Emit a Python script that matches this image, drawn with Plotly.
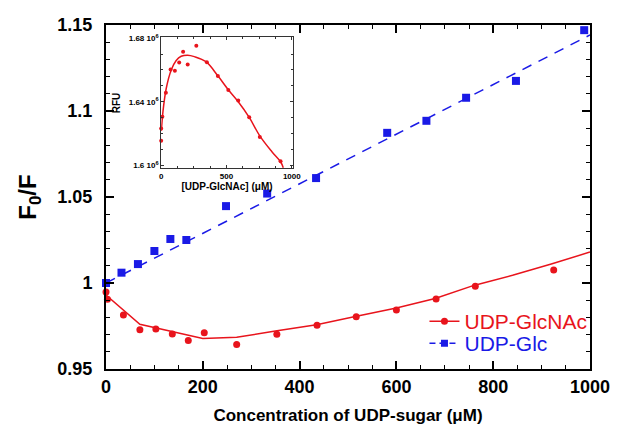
import plotly.graph_objects as go

# ---- main plot data ----
glc_x = [0, 32, 66, 100, 133, 166, 248, 333, 434, 581, 662, 744, 847, 988]
glc_y = [1.000, 1.006, 1.011, 1.0186, 1.0256, 1.025, 1.0447, 1.052, 1.061,
         1.0873, 1.0943, 1.1077, 1.1175, 1.147]
glc_fit_x = [0, 1000]
glc_fit_y = [1.000, 1.1442]

glcnac_x = [0, 3, 36, 70, 103, 137, 170, 203, 270, 353, 436, 517, 600, 682, 763, 925]
glcnac_y = [0.9948, 0.9905, 0.9814, 0.9728, 0.9733, 0.9703, 0.9665, 0.9711, 0.9643,
            0.9702, 0.9754, 0.9804, 0.9843, 0.9907, 0.9981, 1.0076]
glcnac_fit_x = [0, 70, 200, 270, 350, 435, 515, 600, 680, 760, 840, 920, 1000]
glcnac_fit_y = [0.993, 0.976, 0.9678, 0.9684, 0.9721, 0.9757, 0.9805, 0.9855,
                0.991, 0.9986, 1.0045, 1.011, 1.018]

# ---- inset data ----
ins_x = [0, 0, 9, 36, 72, 105, 138, 168, 203, 269, 350, 434, 514, 590, 674, 755, 914]
ins_y = [1.6155e6, 1.6231e6, 1.6306e6, 1.6457e6, 1.6603e6, 1.6595e6, 1.6647e6,
         1.6715e6, 1.6634e6, 1.6752e6, 1.6649e6, 1.6562e6, 1.6473e6, 1.6407e6,
         1.6302e6, 1.6178e6, 1.6025e6]
ins_fit_x = [1.5, 14, 39, 77, 115, 153, 203, 254, 343, 434, 514, 590, 674, 755, 848, 914, 935]
ins_fit_y = [1.6217e6, 1.6341e6, 1.6485e6, 1.6600e6, 1.6660e6, 1.6686e6, 1.6693e6,
             1.6684e6, 1.6652e6, 1.6563e6, 1.6475e6, 1.6400e6, 1.6302e6, 1.6185e6,
             1.6085e6, 1.6022e6, 1.5985e6]

x_ticks = [0, 200, 400, 600, 800, 1000]
y_ticks = [0.95, 1.0, 1.05, 1.1, 1.15]
y_ticktext = ["0.95", "1", "1.05", "1.1", "1.15"]
ins_xticks = [0, 500, 1000]
ins_yticks = [1.60e6, 1.64e6, 1.68e6]
ins_yticktext = ["1.6 10<sup>6</sup>", "1.64 10<sup>6</sup>", "1.68 10<sup>6</sup>"]

RED = "#e8141c"
BLUE = "#1a1ae6"
FONT = "Arial, Liberation Sans, sans-serif"

fig = go.Figure()

# main traces
fig.add_trace(go.Scatter(x=glcnac_fit_x, y=glcnac_fit_y, mode="lines",
                         line=dict(color=RED, width=1.5), showlegend=False,
                         cliponaxis=False))
fig.add_trace(go.Scatter(x=glcnac_x, y=glcnac_y, mode="markers",
                         marker=dict(color=RED, size=7, symbol="circle"),
                         showlegend=False, cliponaxis=False))
fig.add_trace(go.Scatter(x=glc_fit_x, y=glc_fit_y, mode="lines",
                         line=dict(color=BLUE, width=1.5, dash="10px,8px"),
                         showlegend=False, cliponaxis=False))
fig.add_trace(go.Scatter(x=glc_x, y=glc_y, mode="markers",
                         marker=dict(color=BLUE, size=8, symbol="square"),
                         showlegend=False, cliponaxis=False))

# legend entries (two independent legends so rows can be spaced like the reference)
fig.add_trace(go.Scatter(x=[None], y=[None], mode="lines+markers", name="UDP-GlcNAc",
                         line=dict(color=RED, width=1.5),
                         marker=dict(color=RED, size=7, symbol="circle"),
                         legend="legend"))
fig.add_trace(go.Scatter(x=[None], y=[None], mode="lines+markers", name="UDP-Glc",
                         line=dict(color=BLUE, width=1.5, dash="6px,4px"),
                         marker=dict(color=BLUE, size=7, symbol="square"),
                         legend="legend2"))

# inset traces
fig.add_trace(go.Scatter(x=ins_fit_x, y=ins_fit_y, mode="lines", line_shape="spline",
                         line=dict(color=RED, width=1.5), showlegend=False,
                         xaxis="x2", yaxis="y2"))
fig.add_trace(go.Scatter(x=ins_x, y=ins_y, mode="markers",
                         marker=dict(color=RED, size=4, symbol="circle"),
                         showlegend=False, xaxis="x2", yaxis="y2", cliponaxis=False))

axis_common = dict(showline=True, linecolor="black", linewidth=2, mirror="allticks",
                   ticks="inside", ticklen=8, tickwidth=1.5, tickcolor="black",
                   showgrid=False, zeroline=False)

fig.update_layout(
    width=622, height=437,
    margin=dict(l=106, r=28, t=25, b=68),
    paper_bgcolor="white", plot_bgcolor="white",
    font=dict(family=FONT, color="black"),
    xaxis=dict(range=[0, 1000], tickvals=x_ticks,
               tickfont=dict(size=18, family=FONT, weight="bold"),
               minor=dict(dtick=50, ticks="inside", ticklen=4, tickcolor="black", tickwidth=1),
               title=dict(text="Concentration of UDP-sugar (μM)",
                          font=dict(size=17, family=FONT, weight="bold"), standoff=14),
               **axis_common),
    yaxis=dict(range=[0.95, 1.15], tickvals=y_ticks, ticktext=y_ticktext,
               tickfont=dict(size=18, family=FONT, weight="bold"),
               ticklabelstandoff=8,
               minor=dict(dtick=0.01, tick0=0.95, ticks="inside", ticklen=4,
                          tickcolor="black", tickwidth=1),
               title=dict(text="F<sub>0</sub>/F",
                          font=dict(size=24, family=FONT, weight="bold"), standoff=14),
               **axis_common),
    xaxis2=dict(domain=[0.114, 0.386], anchor="y2", range=[0, 1008],
                tickvals=ins_xticks, showline=True, linecolor="#333", linewidth=1,
                mirror="allticks", ticks="inside", ticklen=3, tickcolor="#333",
                showgrid=False, zeroline=False, ticklabelstandoff=0,
                tickfont=dict(size=8, family=FONT, weight="bold"),
                minor=dict(dtick=125, ticks="inside", ticklen=2, tickcolor="#333"),
                title=dict(text="[UDP-GlcNAc] (μM)",
                           font=dict(size=10, family=FONT, weight="bold"), standoff=2)),
    yaxis2=dict(domain=[0.583, 0.964], anchor="x2", range=[1.598e6, 1.6805e6],
                tickvals=ins_yticks, ticktext=ins_yticktext, showline=True,
                linecolor="#333", linewidth=1, mirror="allticks", ticks="inside",
                ticklen=3, tickcolor="#333", showgrid=False, zeroline=False,
                tickfont=dict(size=8, family=FONT, weight="bold"),
                minor=dict(dtick=10000, ticks="inside", ticklen=2, tickcolor="#333"),
                title=dict(text="RFU", font=dict(size=10, family=FONT, weight="bold"),
                           standoff=6)),
    legend=dict(x=0.658, y=0.138, xanchor="left", yanchor="middle",
                bgcolor="rgba(0,0,0,0)", font=dict(size=21, family=FONT, color=RED),
                itemwidth=30),
    legend2=dict(x=0.658, y=0.074, xanchor="left", yanchor="middle",
                 bgcolor="rgba(0,0,0,0)", font=dict(size=21, family=FONT, color=BLUE),
                 itemwidth=30),
    showlegend=True,
)

fig.write_html("out.html")
